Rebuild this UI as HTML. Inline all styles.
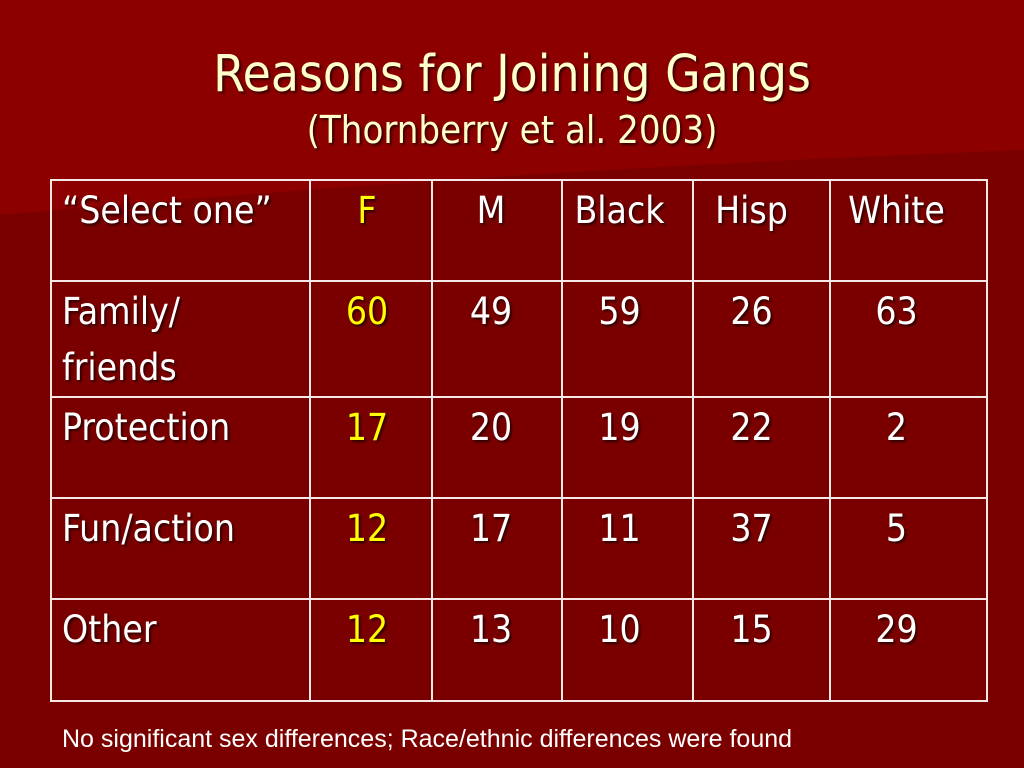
<!DOCTYPE html>
<html><head><meta charset="utf-8"><style>
body{margin:0;width:1024px;height:768px;overflow:hidden;background:#7a0000;position:relative;font-family:"DejaVu Sans Condensed","DejaVu Sans","Liberation Sans",sans-serif}
.t{position:absolute;color:#fff;text-shadow:2px 2px 2px rgba(0,0,0,.6);font-size:37px;line-height:56px;white-space:nowrap}
.c{text-align:center}
.y{color:#ffff00}
table{position:absolute;left:50px;top:179px;border-collapse:collapse;table-layout:fixed;width:924px;height:521px}
td{border:2px solid #f4e8e8;padding:0}
</style></head><body>
<svg style="position:absolute;left:0;top:0" width="1024" height="768">
<rect width="1024" height="768" fill="#7a0000"/>
<path d="M0 0H1024V150Q500 170 0 215Z" fill="#8c0000"/>
</svg>
<div class="t c" style="left:0;width:1024px;top:44px;font-size:51px;color:#ffffcc;line-height:62px">Reasons for Joining Gangs</div>
<div class="t c" style="left:0;width:1024px;top:102px;font-size:38px;color:#ffffcc">(Thornberry et al. 2003)</div>
<table><tbody id="tb"></tbody></table>
<div id="cells"></div>
<div class="t" style="left:62px;top:723px;font-family:'Liberation Sans',sans-serif;font-size:25px;line-height:32px;text-shadow:none">No significant sex differences; Race/ethnic differences were found</div>
<script>
const headers=["“Select one”","F","M","Black","Hisp","White"];
const rowLabels=["Family/<br>friends","Protection","Fun/action","Other"];
const F=[60,17,12,12],M=[49,20,17,13],Black=[59,19,11,10],Hisp=[26,22,37,15],White=[63,2,5,29];
const colX=[50,307,427,555,684,819,974],rowY=[179,280,396,497,598,700];
const tb=document.getElementById('tb');
for(let r=0;r<5;r++){const tr=document.createElement('tr');tr.style.height=(rowY[r+1]-rowY[r])+'px';for(let c=0;c<6;c++){const td=document.createElement('td');td.style.width=(colX[c+1]-colX[c])+'px';tr.appendChild(td);}tb.appendChild(tr);}
const cells=document.getElementById('cells');
function put(html,c,r,cls,name){const d=document.createElement('div');d.className='t '+cls;d.innerHTML=html;


if(c===0){d.style.left='62px';}else{d.style.left=colX[c]+'px';d.style.width=(colX[c+1]-colX[c])+'px';}
d.style.top=(rowY[r]+4)+'px';cells.appendChild(d);}
headers.forEach((h,c)=>put(h,c,0,c===0?'':(c===1?'c y':'c'),'header-'+c));
const series=[F,M,Black,Hisp,White];
rowLabels.forEach((l,r)=>{put(l,0,r+1,'','row-label-'+r);series.forEach((s,i)=>put(String(s[r]),i+1,r+1,i===0?'c y':'c','cell-'+r+'-'+i));});
</script>
</body></html>
